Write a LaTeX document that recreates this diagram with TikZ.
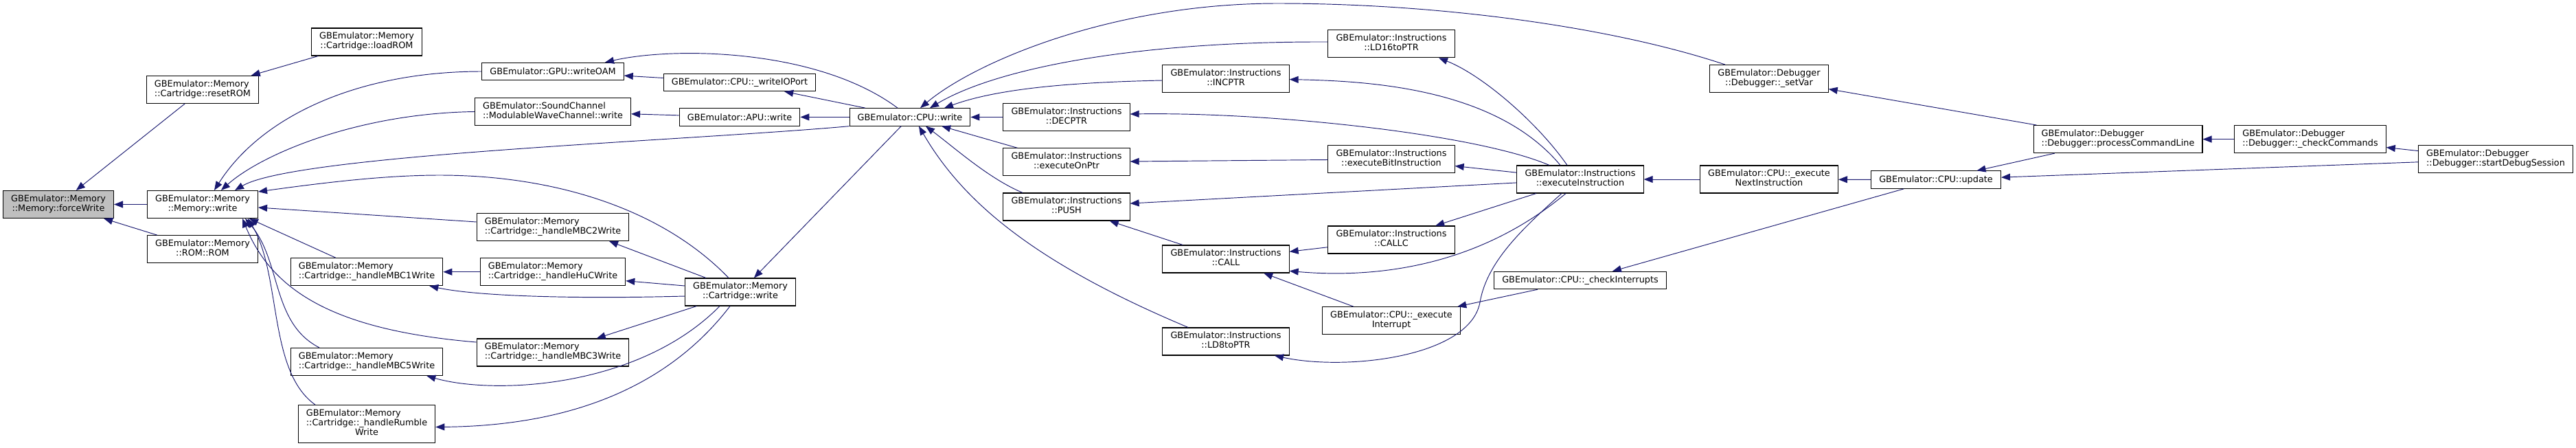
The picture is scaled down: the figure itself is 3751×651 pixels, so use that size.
\documentclass[tikz,border=0pt]{standalone}
\usepackage{fontspec}
\setmainfont{DejaVu Sans}
\usetikzlibrary{arrows.meta}
\definecolor{edgeblue}{HTML}{191970}
\definecolor{curgray}{HTML}{BFBFBF}
% zweizeilige / dreizeilige Beschriftung (letzte Zeile zentriert)
\newcommand{\fnl}[2]{\begin{tabular}{@{}l@{}}#1\\\multicolumn{1}{@{}c@{}}{#2}\end{tabular}}
\newcommand{\fnlll}[3]{\begin{tabular}{@{}l@{}}#1\\#2\\\multicolumn{1}{@{}c@{}}{#3}\end{tabular}}
\tikzset{
  fn/.style={draw=black,line width=1.1pt,fill=white,inner xsep=11.6pt,inner ysep=0pt,
    minimum height=25.4pt,font=\fontsize{12.84pt}{14pt}\selectfont},
  fn2/.style={fn,minimum height=40pt},
  fn3/.style={fn,minimum height=54.8pt},
  call/.style={edgeblue,line width=0.95pt,<-},
}
\begin{document}
\begin{tikzpicture}[x=1pt,y=-1pt,>={Triangle[length=13pt,width=10pt]}]
\useasboundingbox (0,0) rectangle (3751,651);
% Spalte 1-2: Memory
\node[fn2,fill=curgray] (fw) at (85,297.5) {\fnl{GBEmulator::Memory}{::Memory::forceWrite}};
\node[fn2] (rr)  at (295,130.4) {\fnl{GBEmulator::Memory}{::Cartridge::resetROM}};
\node[fn2] (mw)  at (295,297.5) {\fnl{GBEmulator::Memory}{::Memory::write}};
\node[fn2] (rom) at (295,362.7) {\fnl{GBEmulator::Memory}{::ROM::ROM}};
% Spalte 3: Cartridge-Handler
\node[fn2] (lr)   at (534,61)    {\fnl{GBEmulator::Memory}{::Cartridge::loadROM}};
\node[fn2] (mbc1) at (534,395.7) {\fnl{GBEmulator::Memory}{::Cartridge::\_handleMBC1Write}};
\node[fn2] (mbc5) at (534,526.5) {\fnl{GBEmulator::Memory}{::Cartridge::\_handleMBC5Write}};
\node[fn3] (rmb)  at (534,617)   {\fnlll{GBEmulator::Memory}{::Cartridge::\_handleRumble}{Write}};
% Spalte 4
\node[fn]  (oam)  at (805,104)   {GBEmulator::GPU::writeOAM};
\node[fn2] (mwc)  at (805,162.5) {\fnl{GBEmulator::SoundChannel}{::ModulableWaveChannel::write}};
\node[fn2] (mbc2) at (805,330.5) {\fnl{GBEmulator::Memory}{::Cartridge::\_handleMBC2Write}};
\node[fn2] (huc)  at (805,395.7) {\fnl{GBEmulator::Memory}{::Cartridge::\_handleHuCWrite}};
\node[fn2] (mbc3) at (805,513)   {\fnl{GBEmulator::Memory}{::Cartridge::\_handleMBC3Write}};
% Spalte 5
\node[fn]  (iop) at (1077,120)   {GBEmulator::CPU::\_writeIOPort};
\node[fn]  (apu) at (1077,170.4) {GBEmulator::APU::write};
\node[fn2] (cw)  at (1078,425)   {\fnl{GBEmulator::Memory}{::Cartridge::write}};
% Spalte 6
\node[fn]  (cpuw) at (1325,170.4) {GBEmulator::CPU::write};
% Spalte 7-8: Instructions
\node[fn2] (dec)  at (1553,170.6) {\fnl{GBEmulator::Instructions}{::DECPTR}};
\node[fn2] (eop)  at (1553,235.8) {\fnl{GBEmulator::Instructions}{::executeOnPtr}};
\node[fn2] (push) at (1553,301)   {\fnl{GBEmulator::Instructions}{::PUSH}};
\node[fn2] (inc)  at (1785,114.6) {\fnl{GBEmulator::Instructions}{::INCPTR}};
\node[fn2] (call) at (1785,377)   {\fnl{GBEmulator::Instructions}{::CALL}};
\node[fn2] (ld8)  at (1785,497)   {\fnl{GBEmulator::Instructions}{::LD8toPTR}};
% Spalte 9-10
\node[fn2] (ld16)  at (2026,63.7)  {\fnl{GBEmulator::Instructions}{::LD16toPTR}};
\node[fn2] (bit)   at (2026,231.7) {\fnl{GBEmulator::Instructions}{::executeBitInstruction}};
\node[fn2] (callc) at (2026,349)   {\fnl{GBEmulator::Instructions}{::CALLC}};
\node[fn2] (exint) at (2026,466.7) {\fnl{GBEmulator::CPU::\_execute}{Interrupt}};
\node[fn2] (exi)   at (2301,261)   {\fnl{GBEmulator::Instructions}{::executeInstruction}};
\node[fn]  (chki)  at (2301,408)   {GBEmulator::CPU::\_checkInterrupts};
% Spalte 11-14: CPU / Debugger
\node[fn2] (setv) at (2576,114.6) {\fnl{GBEmulator::Debugger}{::Debugger::\_setVar}};
\node[fn2] (exni) at (2576,261)   {\fnl{GBEmulator::CPU::\_execute}{NextInstruction}};
\node[fn]  (upd)  at (2819,261.6) {GBEmulator::CPU::update};
\node[fn2] (pcl)  at (3084,202.6) {\fnl{GBEmulator::Debugger}{::Debugger::processCommandLine}};
\node[fn2] (chkc) at (3364,202.6) {\fnl{GBEmulator::Debugger}{::Debugger::\_checkCommands}};
\node[fn2] (sds)  at (3634,231.7) {\fnl{GBEmulator::Debugger}{::Debugger::startDebugSession}};
% gerade Aufrufkanten (Pfeil beim Aufgerufenen)
\foreach \a/\b in {fw/rr,fw/mw,fw/rom,rr/lr,mbc1/huc,mbc3/cw,cw/cpuw,oam/iop,iop/cpuw,
  mwc/apu,apu/cpuw,cpuw/dec,cpuw/eop,eop/bit,bit/exi,push/exi,push/call,call/callc,
  call/exint,callc/exi,exint/chki,chki/upd,exi/exni,exni/upd,setv/pcl,upd/pcl,upd/sds,
  pcl/chkc,chkc/sds}
  \draw[call] (\a) -- (\b);
% Aufrufer von Memory::write
\draw[call] ([xshift=17pt]mw.north) .. controls (380,170) and (520,104) .. (oam.west);
\draw[call] ([xshift=27pt]mw.north) .. controls (380,225) and (520,165) .. (mwc.west);
\draw[call] ([xshift=47pt]mw.north) .. controls (430,225) and (1000,205) .. (cpuw.south west);
\draw[call] ([yshift=18.5pt]mw.east) .. controls (470,266) and (560,255) .. (640,255)
  .. controls (800,255) and (960,300) .. ([xshift=-17pt]cw.north);
\draw[call] ([yshift=-4.5pt]mw.east) -- ([yshift=7.5pt]mbc2.west);
\draw[call] ([xshift=68pt]mw.south) -- (mbc1);
\draw[call] ([xshift=58pt]mw.south) .. controls (395,420) and (480,480) .. ([yshift=15pt]mbc3.west);
\draw[call] ([xshift=62pt]mw.south) .. controls (410,380) and (395,470) .. ([xshift=-69pt]mbc5.north);
\draw[call] ([xshift=66pt]mw.south) .. controls (410,400) and (390,540) .. ([xshift=-75pt]rmb.north);
% Aufrufe aus Cartridge::write
\draw[call] ([xshift=-20pt]mbc1.south east) .. controls (700,432) and (850,435) .. ([yshift=-6pt]cw.west);
\draw[call] ([xshift=-24pt]mbc5.south east) .. controls (720,575) and (930,565) .. ([xshift=-30pt]cw.south);
\draw[call] ([yshift=-4.5pt]rmb.east) .. controls (800,620) and (960,580) .. ([xshift=-15pt]cw.south);
\draw[call] ([xshift=82pt]mbc2.south) -- ([xshift=-50pt]cw.north);
\draw[call] ([yshift=-13pt]huc.east) -- ([yshift=9pt]cw.west);
% Aufrufer von CPU::write
\draw[call] ([xshift=76pt]oam.north) .. controls (980,68) and (1190,70) .. ([xshift=-18pt]cpuw.north);
\draw[call] ([xshift=15pt]cpuw.north) .. controls (1420,90) and (1620,5) .. (1860,5)
  .. controls (2100,5) and (2350,40) .. ([xshift=-64pt]setv.north);
\draw[call] ([xshift=29pt]cpuw.north) .. controls (1450,100) and (1650,60) .. ([yshift=2.7pt]ld16.west);
\draw[call] ([xshift=50pt]cpuw.north) .. controls (1450,130) and (1550,120) .. ([yshift=-2.4pt]inc.west);
\draw[call] ([xshift=23pt]cpuw.south) .. controls (1390,215) and (1440,260) .. ([xshift=-64pt]push.north);
\draw[call] ([xshift=13pt]cpuw.south) .. controls (1400,290) and (1500,380) .. ([xshift=-55pt]ld8.north);
% Aufrufe aus executeInstruction
\draw[call] ([yshift=-1pt]inc.east) .. controls (2000,118) and (2180,130) .. ([xshift=-29pt]exi.north);
\draw[call] ([xshift=69pt]ld16.south) .. controls (2160,110) and (2240,180) .. ([xshift=-19pt]exi.north);
\draw[call] ([yshift=4.6pt]dec.east) .. controls (1850,163) and (2150,195) .. ([xshift=-45pt]exi.north);
\draw[call] ([yshift=-17.4pt]call.east) .. controls (2000,405) and (2150,390) .. ([xshift=-21pt]exi.south);
\draw[call] ([xshift=71pt]ld8.south) .. controls (1960,540) and (2140,520) .. (2155,440)
  .. controls (2165,380) and (2220,330) .. ([xshift=-27pt]exi.south);
\end{tikzpicture}
\end{document}
